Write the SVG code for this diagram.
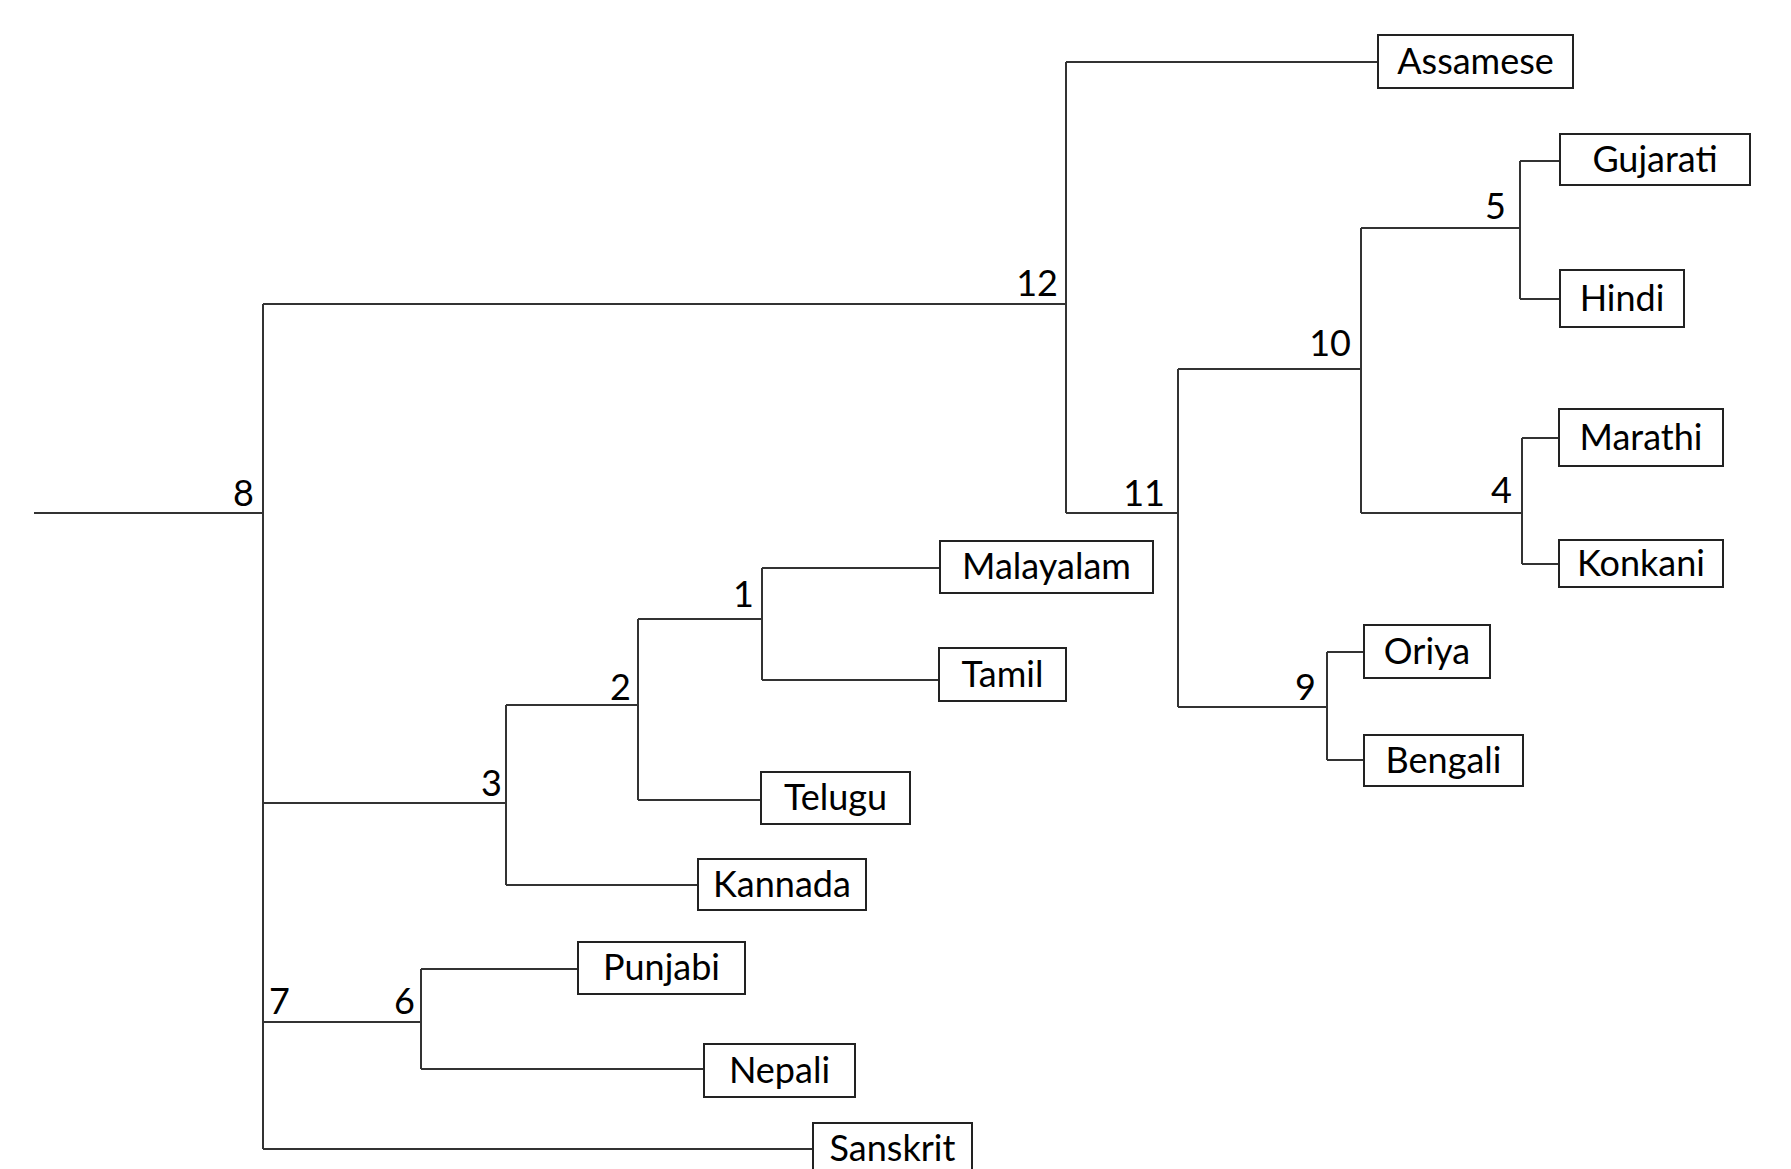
<svg xmlns="http://www.w3.org/2000/svg" width="1791" height="1169" viewBox="0 0 1791 1169">
<style>
.bg{fill:#ffffff}
.edge{fill:none;stroke:#333333;stroke-width:2}
.box{fill:#ffffff;stroke:#222222;stroke-width:2}
.lbl{font-family:Lato,"Liberation Sans",sans-serif;font-size:36px;fill:#000000;text-anchor:middle}
.num{font-family:Lato,"Liberation Sans",sans-serif;font-size:36px;fill:#000000;text-anchor:end}
</style>
<rect class="bg" x="0" y="0" width="1791" height="1169"/>
<g id="connectors">
<path class="edge" d="M34,513 H263"/>
<path class="edge" d="M263,304 V1149"/>
<path class="edge" d="M263,304 H1066 M1066,62 V513 M1066,62 H1378"/>
<path class="edge" d="M1066,513 H1178 M1178,369 V707"/>
<path class="edge" d="M1178,369 H1361 M1361,228 V513"/>
<path class="edge" d="M1361,228 H1520 M1520,161 V299 M1520,161 H1560 M1520,299 H1560"/>
<path class="edge" d="M1361,513 H1522 M1522,438 V564 M1522,438 H1559 M1522,564 H1559"/>
<path class="edge" d="M1178,707 H1327 M1327,652 V760 M1327,652 H1364 M1327,760 H1364"/>
<path class="edge" d="M263,803 H506 M506,705 V885 M506,885 H698"/>
<path class="edge" d="M506,705 H638 M638,619 V800 M638,800 H761"/>
<path class="edge" d="M638,619 H762 M762,568 V680 M762,568 H940 M762,680 H939"/>
<path class="edge" d="M263,1022 H421 M421,969 V1069 M421,969 H578 M421,1069 H704"/>
<path class="edge" d="M263,1149 H813"/>
</g>
<g id="labels">
<text class="num" x="254" y="506">8</text>
<text class="num" x="1058" y="296">12</text>
<text class="num" x="1165" y="506">11</text>
<text class="num" x="1351" y="356">10</text>
<text class="num" x="1506" y="219">5</text>
<text class="num" x="1512" y="503">4</text>
<text class="num" x="1316" y="700">9</text>
<text class="num" x="754" y="607">1</text>
<text class="num" x="631" y="700">2</text>
<text class="num" x="502" y="796">3</text>
<text class="num" x="290" y="1014">7</text>
<text class="num" x="415" y="1014">6</text>
</g>
<g id="node-assamese"><rect class="box" x="1378" y="35" width="195" height="53"/><text class="lbl" x="1475.5" y="73.5">Assamese</text></g>
<g id="node-gujarati"><rect class="box" x="1560" y="134" width="190" height="51"/><text class="lbl" x="1655" y="171.5">Gujarati</text></g>
<g id="node-hindi"><rect class="box" x="1560" y="270" width="124" height="57"/><text class="lbl" x="1622" y="310.5">Hindi</text></g>
<g id="node-marathi"><rect class="box" x="1559" y="409" width="164" height="57"/><text class="lbl" x="1641" y="449.5">Marathi</text></g>
<g id="node-konkani"><rect class="box" x="1559" y="540" width="164" height="47"/><text class="lbl" x="1641" y="575.5">Konkani</text></g>
<g id="node-oriya"><rect class="box" x="1364" y="625" width="126" height="53"/><text class="lbl" x="1427" y="663.5">Oriya</text></g>
<g id="node-bengali"><rect class="box" x="1364" y="735" width="159" height="51"/><text class="lbl" x="1443.5" y="772.5">Bengali</text></g>
<g id="node-malayalam"><rect class="box" x="940" y="541" width="213" height="52"/><text class="lbl" x="1046.5" y="579">Malayalam</text></g>
<g id="node-tamil"><rect class="box" x="939" y="648" width="127" height="53"/><text class="lbl" x="1002.5" y="686.5">Tamil</text></g>
<g id="node-telugu"><rect class="box" x="761" y="772" width="149" height="52"/><text class="lbl" x="835.5" y="810">Telugu</text></g>
<g id="node-kannada"><rect class="box" x="698" y="859" width="168" height="51"/><text class="lbl" x="782" y="896.5">Kannada</text></g>
<g id="node-punjabi"><rect class="box" x="578" y="942" width="167" height="52"/><text class="lbl" x="661.5" y="980">Punjabi</text></g>
<g id="node-nepali"><rect class="box" x="704" y="1044" width="151" height="53"/><text class="lbl" x="779.5" y="1082.5">Nepali</text></g>
<g id="node-sanskrit"><rect class="box" x="813" y="1123" width="159" height="60"/><text class="lbl" x="892.5" y="1161">Sanskrit</text></g>
</svg>
